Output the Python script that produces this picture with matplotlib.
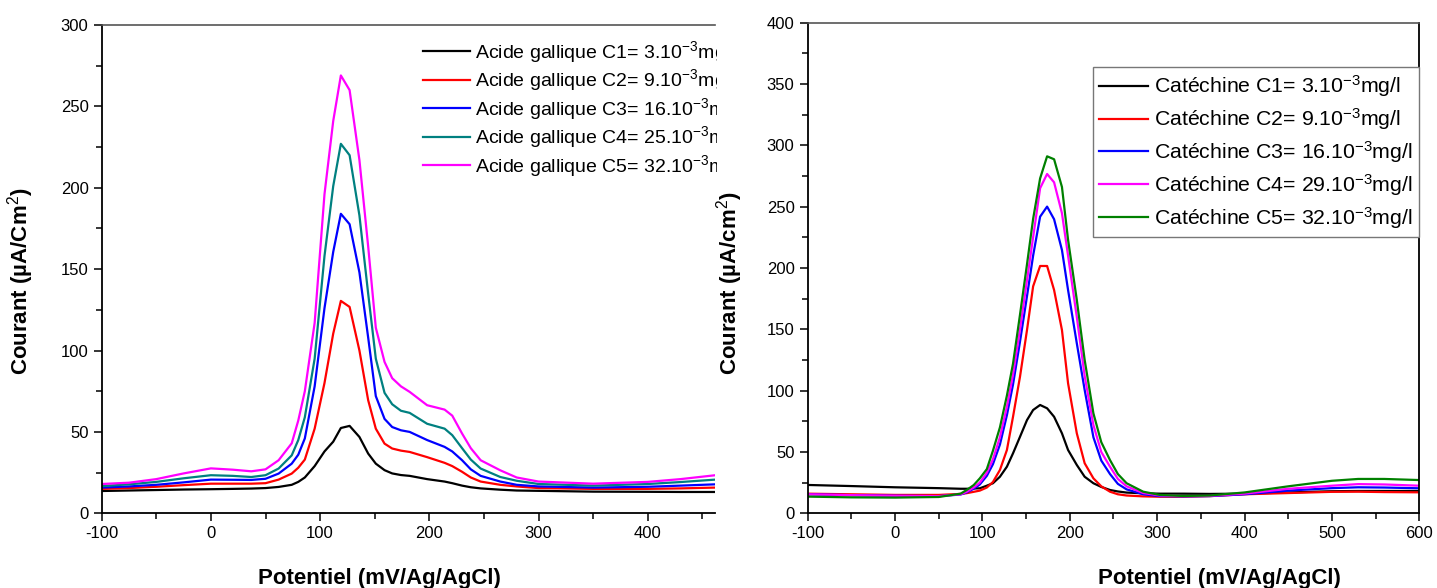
import matplotlib
matplotlib.use("Agg")
import matplotlib.pyplot as plt
from matplotlib.patches import Rectangle
from matplotlib.ticker import MultipleLocator

plt.rcParams['font.family'] = ['Liberation Sans', 'DejaVu Sans']
plt.rcParams['mathtext.fontset'] = 'custom'
plt.rcParams['mathtext.rm'] = 'Liberation Sans'
plt.rcParams['mathtext.it'] = 'Liberation Sans:italic'
plt.rcParams['mathtext.bf'] = 'Liberation Sans:bold'
plt.rcParams['axes.unicode_minus'] = False

# ---- Acide gallique (left panel) ----
pot_ag = [-100, -75, -50, -25, 0, 20, 37, 50, 62, 74, 80, 86, 95, 104, 112, 119, 127,
          136, 144, 151, 159, 166, 174, 182, 198, 214, 221, 230, 238, 247, 265, 280,
          300, 350, 400, 430, 462]
ag_c1 = [13.7, 14.0, 14.3, 14.6, 14.8, 15.0, 15.2, 15.5, 16.2, 17.5, 19.3, 22.0, 29.0, 38.0,
         44.0, 52.4, 53.7, 46.9, 36.7, 30.5, 26.5, 24.5, 23.5, 23.0, 21.0, 19.5, 18.5, 17.0,
         16.0, 15.3, 14.5, 14.0, 13.8, 13.3, 13.2, 13.1, 13.1]
ag_c2 = [15.0, 15.5, 16.3, 17.3, 18.2, 18.2, 18.2, 18.5, 20.7, 24.4, 28.0, 33.0, 52.0, 80.0,
         110.4, 130.5, 126.8, 100.0, 69.5, 52.0, 42.8, 39.8, 38.5, 37.7, 34.5, 31.0, 29.0,
         25.5, 22.0, 19.5, 17.5, 16.5, 15.5, 15.0, 15.0, 15.3, 15.8]
ag_c3 = [15.8, 16.5, 17.5, 19.0, 20.7, 20.6, 20.5, 21.2, 24.4, 30.5, 36.0, 46.0, 78.0, 126.0,
         160.6, 184.0, 177.6, 148.0, 108.0, 72.0, 58.0, 53.0, 51.0, 50.0, 45.0, 40.8, 38.0,
         32.6, 27.0, 23.0, 19.5, 17.5, 16.5, 15.8, 16.3, 17.0, 17.8]
ag_c4 = [16.7, 17.8, 19.3, 21.5, 23.4, 23.0, 22.3, 23.4, 27.5, 35.6, 45.0, 59.0, 95.0, 158.0,
         201.0, 227.0, 220.0, 183.0, 135.0, 95.0, 74.0, 67.0, 63.0, 61.7, 55.0, 52.0, 48.0,
         40.0, 33.0, 27.5, 22.3, 20.0, 18.0, 17.0, 18.0, 19.2, 20.7]
ag_c5 = [18.0, 18.8, 21.0, 24.5, 27.6, 26.8, 25.8, 27.0, 32.6, 43.0, 57.0, 75.0, 117.0, 196.0,
         241.0, 269.0, 260.0, 217.0, 164.0, 114.0, 93.0, 83.0, 78.0, 74.6, 66.4, 63.7, 60.0,
         49.0, 40.0, 32.6, 26.4, 22.0, 19.5, 18.2, 19.3, 21.0, 23.4]
ag_labels = ['Acide gallique C1= 3.10$^{-3}$mg/l',
             'Acide gallique C2= 9.10$^{-3}$mg/l',
             'Acide gallique C3= 16.10$^{-3}$mg/l',
             'Acide gallique C4= 25.10$^{-3}$mg/l',
             'Acide gallique C5= 32.10$^{-3}$mg/l']
ag_colors = ['black', '#ff0000', '#0000ff', '#008080', '#ff00ff']

# ---- Catéchine (right panel) ----
pot_cat = [-100, -50, 0, 50, 75, 82, 90, 97, 105, 112, 120, 128, 135, 143, 151, 158, 166,
           174, 182, 191, 198, 208, 217, 227, 236, 246, 255, 265, 284, 303, 330, 360, 400,
           450, 500, 530, 560, 600]
cat_c1 = [23.1, 22.2, 21.2, 20.5, 20.0, 20.0, 20.2, 20.4, 22.5, 24.5, 29.8, 38.0, 48.9, 62.4,
          76.0, 84.2, 88.3, 85.6, 78.7, 65.2, 51.6, 39.4, 29.8, 24.5, 21.5, 19.0, 17.8, 16.9,
          16.3, 16.0, 16.0, 15.8, 16.0, 17.0, 18.0, 18.2, 18.2, 18.2]
cat_c2 = [16.0, 15.5, 15.0, 15.0, 15.8, 16.4, 17.5, 18.5, 21.0, 25.5, 35.3, 51.6, 78.7, 111.4,
          149.4, 185.0, 201.6, 201.6, 182.0, 149.4, 106.0, 65.2, 40.8, 28.5, 22.0, 17.6, 15.5,
          14.5, 13.8, 13.5, 13.5, 14.0, 15.5, 16.5, 17.5, 17.6, 17.3, 17.1]
cat_c3 = [15.5, 14.8, 14.3, 14.0, 15.3, 17.0, 20.0, 23.5, 30.5, 40.0, 56.0, 80.0, 105.0, 140.0,
          177.0, 210.0, 241.8, 250.0, 239.7, 214.6, 182.0, 138.6, 100.5, 62.0, 43.0, 32.0, 24.0,
          19.5, 15.5, 14.0, 13.8, 14.0, 15.5, 18.5, 20.5, 21.2, 21.0, 20.4]
cat_c4 = [15.5, 14.8, 14.3, 14.0, 15.5, 17.5, 21.0, 25.0, 33.0, 44.0, 62.0, 87.0, 113.0, 150.0,
          190.0, 225.0, 265.0, 276.6, 269.8, 244.6, 210.0, 160.0, 112.0, 72.0, 50.0, 38.0, 28.0,
          22.0, 16.5, 14.5, 14.0, 14.2, 16.0, 20.0, 22.5, 23.8, 23.5, 22.5]
cat_c5 = [13.6, 13.0, 12.8, 13.3, 16.0, 19.0, 23.0, 28.5, 36.0, 51.0, 70.0, 96.0, 122.0, 162.0,
          203.0, 240.0, 273.0, 291.0, 288.6, 266.0, 223.0, 174.0, 125.0, 81.5, 58.0, 43.4, 32.0,
          24.5, 17.6, 15.0, 14.1, 14.5, 17.0, 22.0, 26.5, 28.0, 28.0, 27.1]
cat_labels = ['Catéchine C1= 3.10$^{-3}$mg/l',
              'Catéchine C2= 9.10$^{-3}$mg/l',
              'Catéchine C3= 16.10$^{-3}$mg/l',
              'Catéchine C4= 29.10$^{-3}$mg/l',
              'Catéchine C5= 32.10$^{-3}$mg/l']
cat_colors = ['black', '#ff0000', '#0000ff', '#ff00ff', '#008000']

W, H = 1437, 588
fig = plt.figure(figsize=(W / 100, H / 100), dpi=100)

ax1 = fig.add_axes([101.7 / W, 1 - 513.3 / H, (715 - 101.7) / W, (513.3 - 25) / H])
ax2 = fig.add_axes([807.7 / W, 1 - 513.3 / H, (1419.3 - 807.7) / W, (513.3 - 22.6) / H])


def style_axes(ax, show_right):
    ax.tick_params(which='both', direction='out', labelsize=12, width=1.1, color='black')
    ax.tick_params(which='major', length=6)
    ax.tick_params(which='minor', length=4)
    ax.tick_params(axis='y', which='both', right=False)
    ax.tick_params(axis='x', which='both', top=False)
    for side in ['left', 'bottom']:
        ax.spines[side].set_linewidth(1.3)
        ax.spines[side].set_color('black')
    ax.spines['top'].set_linewidth(1.2)
    ax.spines['top'].set_color('#555555')
    ax.spines['right'].set_visible(show_right)
    ax.spines['right'].set_linewidth(1.3)
    ax.xaxis.set_major_locator(MultipleLocator(100))
    ax.xaxis.set_minor_locator(MultipleLocator(50))
    ax.yaxis.set_major_locator(MultipleLocator(50))
    ax.yaxis.set_minor_locator(MultipleLocator(25))


for ys, c, lab in zip([ag_c1, ag_c2, ag_c3, ag_c4, ag_c5], ag_colors, ag_labels):
    ax1.plot(pot_ag, ys, color=c, lw=1.6, label=lab)
ax1.set_xlim(-100, 461.6)
ax1.set_ylim(0, 300)
style_axes(ax1, False)
ax1.set_xlabel('Potentiel (mV/Ag/AgCl)', fontsize=16, fontweight='bold')
ax1.set_ylabel('Courant (µA/Cm$^{2}$)', fontsize=16, fontweight='bold')
ax1.xaxis.set_label_coords(0.453, -0.112)
ax1.yaxis.set_label_coords(-0.107, 0.476)
ax1.legend(loc='upper left', bbox_to_anchor=(0.524, 0.971), frameon=False, fontsize=14,
           borderpad=0, borderaxespad=0, handlelength=2.4, handletextpad=0.27,
           labelspacing=0.13)

# the left legend runs past its panel edge; mask the overflow (the right panel draws on top)
ax1.add_patch(Rectangle((717 / W, 1 - 200 / H), 90 / W, 180 / H,
                        transform=fig.transFigure, facecolor='white',
                        edgecolor='none', zorder=10, clip_on=False))

for ys, c, lab in zip([cat_c1, cat_c2, cat_c3, cat_c4, cat_c5], cat_colors, cat_labels):
    ax2.plot(pot_cat, ys, color=c, lw=1.6, label=lab)
ax2.set_xlim(-100, 600)
ax2.set_ylim(0, 400)
style_axes(ax2, True)
ax2.set_xlabel('Potentiel (mV/Ag/AgCl)', fontsize=16, fontweight='bold')
ax2.set_ylabel('Courant (µA/cm$^{2}$)', fontsize=16, fontweight='bold')
ax2.xaxis.set_label_coords(0.674, -0.112)
ax2.yaxis.set_label_coords(-0.1025, 0.469)
leg2 = ax2.legend(loc='upper right', bbox_to_anchor=(1.0, 0.9095), fontsize=15.3,
                  fancybox=False, framealpha=1, edgecolor='#777777', borderaxespad=0,
                  borderpad=0.3, handlelength=2.3, handletextpad=0.3, labelspacing=0.33)
leg2.get_frame().set_linewidth(1.0)

fig.savefig('out.png', dpi=100)
